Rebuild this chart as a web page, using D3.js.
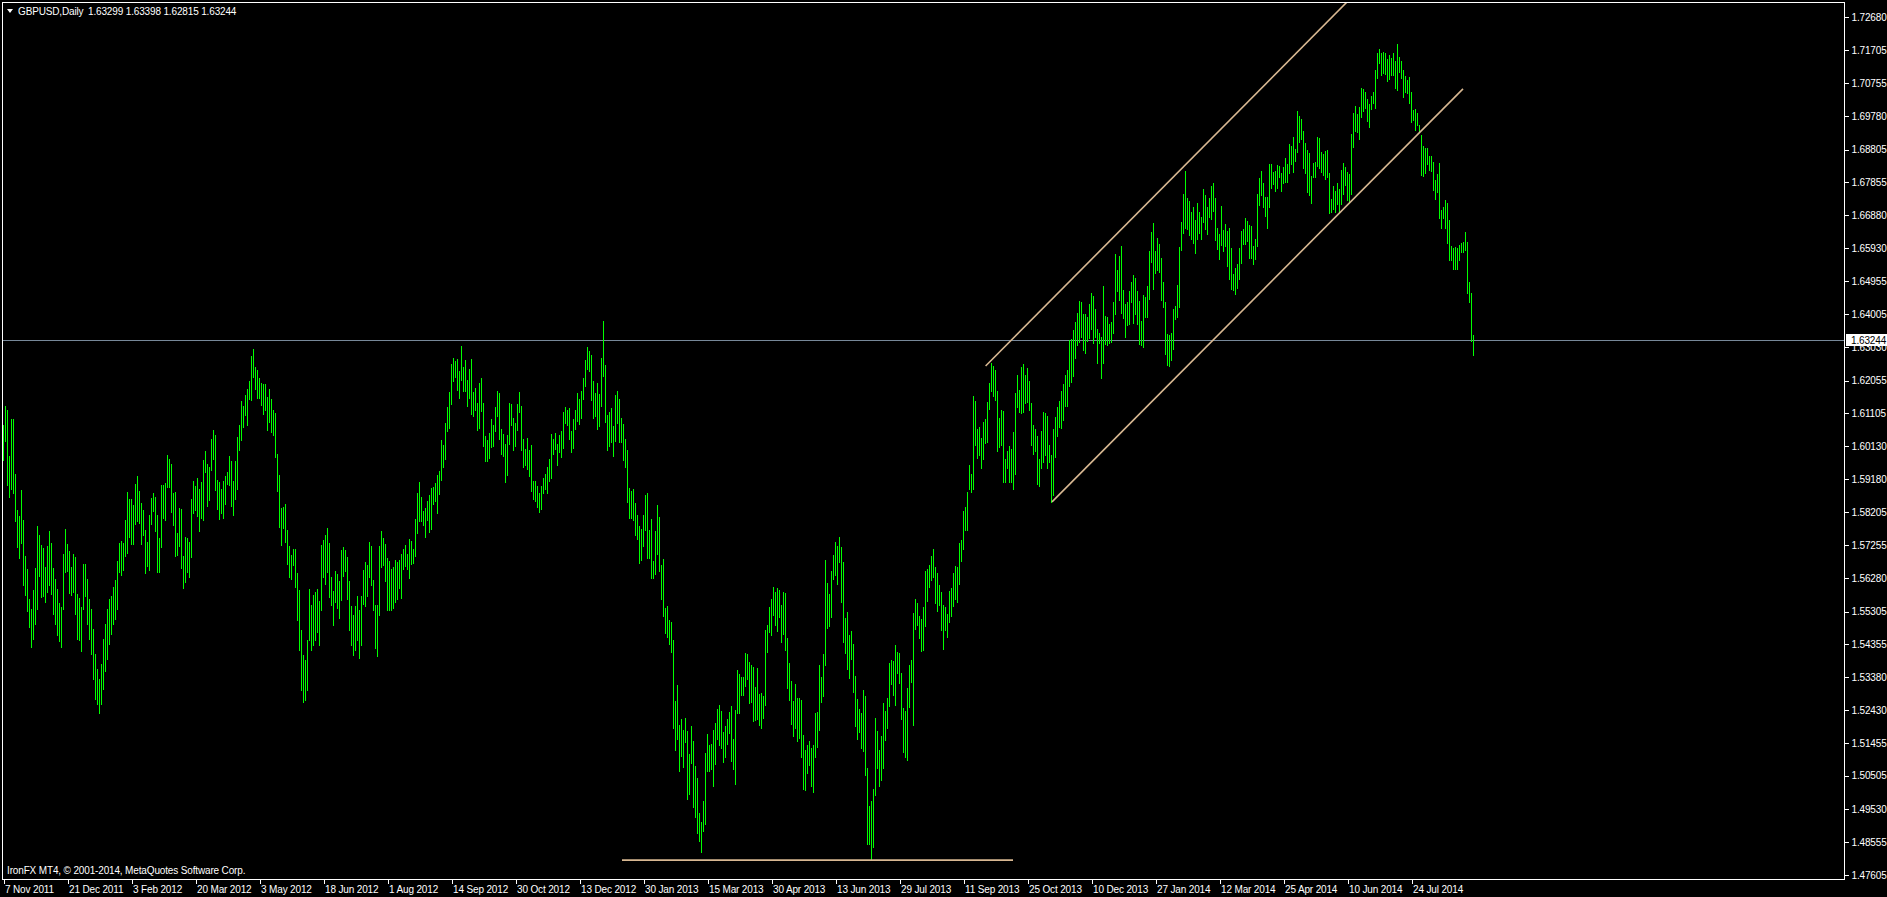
<!DOCTYPE html>
<html><head><meta charset="utf-8">
<script src="https://cdn.jsdelivr.net/npm/d3@7"></script>
<style>
html,body{margin:0;padding:0;background:#000;overflow:hidden}
svg{display:block}
text{font-family:"Liberation Sans",Arial,sans-serif;font-size:10px;fill:#fff;letter-spacing:-0.15px}
</style></head><body>
<svg id="c" width="1887" height="897"></svg>
<script>
const symbolTitle = "GBPUSD,Daily";
const lastOHLC = [1.63299, 1.63398, 1.62815, 1.63244];
const footerText = "IronFX MT4, \u00a9 2001-2014, MetaQuotes Software Corp.";
const dateLabels = ["7 Nov 2011","21 Dec 2011","3 Feb 2012","20 Mar 2012","3 May 2012","18 Jun 2012","1 Aug 2012","14 Sep 2012","30 Oct 2012","13 Dec 2012","30 Jan 2013","15 Mar 2013","30 Apr 2013","13 Jun 2013","29 Jul 2013","11 Sep 2013","25 Oct 2013","10 Dec 2013","27 Jan 2014","12 Mar 2014","25 Apr 2014","10 Jun 2014","24 Jul 2014"];
const barsPerDateLabel = 32;
const priceTicks = [1.72680,1.71705,1.70755,1.69780,1.68805,1.67855,1.66880,1.65930,1.64955,1.64005,1.63030,1.62055,1.61105,1.60130,1.59180,1.58205,1.57255,1.56280,1.55305,1.54355,1.53380,1.52430,1.51455,1.50505,1.49530,1.48555,1.47605];
// trend lines: [barIndex, price]
const channelUpper = [[491.3, 1.6248], [680, 1.7359]];
const channelLower = [[524.5, 1.5851], [730, 1.7058]];
const supportLine = [[309.5, 1.4804], [505, 1.4804]];

const barHighs = [
1.6077,1.6130,1.6118,1.5984,1.6092,1.6092,1.5931,1.5826,1.5811,1.5887,
1.5797,1.5692,1.5654,1.5566,1.5537,1.5592,1.5657,1.5779,1.5753,1.5724,
1.5715,1.5662,1.5721,1.5767,1.5732,1.5657,1.5627,1.5595,1.5554,1.5543,
1.5700,1.5773,1.5727,1.5706,1.5662,1.5700,1.5689,1.5581,1.5569,1.5543,
1.5668,1.5668,1.5627,1.5566,1.5537,1.5478,1.5405,1.5362,1.5332,1.5376,
1.5449,1.5493,1.5537,1.5566,1.5575,1.5601,1.5624,1.5677,1.5732,1.5738,
1.5732,1.5797,1.5881,1.5858,1.5858,1.5841,1.5902,1.5928,1.5884,1.5849,
1.5826,1.5770,1.5735,1.5814,1.5861,1.5878,1.5864,1.5814,1.5744,1.5899,
1.5899,1.5905,1.5989,1.5975,1.5963,1.5876,1.5881,1.5759,1.5832,1.5829,
1.5694,1.5747,1.5744,1.5735,1.5858,1.5913,1.5896,1.5922,1.5890,1.5908,
1.5972,1.6001,1.5963,1.5954,1.6036,1.6062,1.6045,1.5916,1.5908,1.5890,
1.5913,1.5928,1.5937,1.5984,1.5969,1.5911,1.5969,1.6042,1.6077,1.6147,
1.6132,1.6162,1.6182,1.6205,1.6277,1.6298,1.6246,1.6236,1.6213,1.6198,
1.6195,1.6195,1.6158,1.6181,1.6152,1.6120,1.6111,1.5991,1.5929,1.5834,
1.5837,1.5845,1.5769,1.5722,1.5695,1.5713,1.5713,1.5643,1.5593,1.5477,
1.5404,1.5389,1.5447,1.5596,1.5550,1.5579,1.5588,1.5596,1.5561,1.5725,
1.5740,1.5754,1.5775,1.5731,1.5632,1.5590,1.5649,1.5640,1.5620,1.5710,
1.5719,1.5710,1.5690,1.5620,1.5547,1.5520,1.5547,1.5576,1.5535,1.5576,
1.5652,1.5675,1.5666,1.5734,1.5722,1.5623,1.5550,1.5550,1.5722,1.5766,
1.5745,1.5728,1.5687,1.5678,1.5655,1.5661,1.5681,1.5675,1.5681,1.5699,
1.5713,1.5725,1.5699,1.5743,1.5737,1.5713,1.5801,1.5877,1.5909,1.5865,
1.5824,1.5833,1.5853,1.5871,1.5891,1.5894,1.5906,1.5929,1.5941,1.6032,
1.6017,1.6082,1.6128,1.6172,1.6254,1.6271,1.6262,1.6268,1.6233,1.6306,
1.6245,1.6265,1.6207,1.6239,1.6268,1.6172,1.6184,1.6140,1.6198,1.6213,
1.6140,1.6044,1.6032,1.6052,1.6093,1.6076,1.6128,1.6175,1.6169,1.6064,
1.6049,1.6020,1.6046,1.6140,1.6137,1.6096,1.6082,1.6137,1.6172,1.6131,
1.6035,1.6005,1.6038,1.6003,1.6017,1.5912,1.5912,1.5897,1.5877,1.5897,
1.5920,1.5932,1.5953,1.5976,1.6049,1.6035,1.6052,1.6020,1.6046,1.6058,
1.6114,1.6128,1.6120,1.6125,1.6058,1.6093,1.6120,1.6169,1.6152,1.6175,
1.6213,1.6265,1.6303,1.6292,1.6280,1.6204,1.6169,1.6198,1.6166,1.6271,
1.6380,1.6251,1.6105,1.6114,1.6125,1.6073,1.6163,1.6175,1.6152,1.6096,
1.6079,1.6035,1.6003,1.5891,1.5883,1.5888,1.5847,1.5812,1.5780,1.5772,
1.5812,1.5871,1.5877,1.5769,1.5801,1.5678,1.5766,1.5842,1.5807,1.5666,
1.5684,1.5541,1.5547,1.5506,1.5500,1.5447,1.5269,1.5316,1.5199,1.5217,
1.5184,1.5219,1.5182,1.5114,1.5196,1.5152,1.5079,1.5044,1.4942,1.4916,
1.4977,1.5117,1.5173,1.5141,1.5143,1.5184,1.5205,1.5246,1.5257,1.5240,
1.5179,1.5196,1.5217,1.5237,1.5255,1.5158,1.5243,1.5360,1.5348,1.5339,
1.5339,1.5410,1.5407,1.5383,1.5374,1.5368,1.5310,1.5366,1.5290,1.5292,
1.5284,1.5477,1.5491,1.5544,1.5567,1.5602,1.5588,1.5599,1.5593,1.5550,
1.5588,1.5585,1.5453,1.5380,1.5328,1.5269,1.5319,1.5278,1.5278,1.5272,
1.5170,1.5126,1.5141,1.5152,1.5132,1.5141,1.5234,1.5237,1.5374,1.5339,
1.5407,1.5681,1.5614,1.5582,1.5649,1.5696,1.5734,1.5722,1.5748,1.5719,
1.5675,1.5512,1.5529,1.5462,1.5474,1.5436,1.5342,1.5275,1.5246,1.5234,
1.5301,1.5284,1.5073,1.4962,1.4977,1.5012,1.5219,1.5181,1.5126,1.5167,
1.5263,1.5240,1.5278,1.5380,1.5389,1.5386,1.5433,1.5412,1.5409,1.5351,
1.5249,1.5240,1.5307,1.5374,1.5389,1.5526,1.5567,1.5555,1.5518,1.5509,
1.5544,1.5649,1.5655,1.5666,1.5693,1.5713,1.5661,1.5643,1.5608,1.5588,
1.5550,1.5544,1.5523,1.5590,1.5599,1.5643,1.5664,1.5661,1.5731,1.5740,
1.5824,1.5836,1.5880,1.5959,1.5932,1.6160,1.6146,1.6064,1.6070,1.6038,
1.6085,1.6093,1.6143,1.6198,1.6257,1.6248,1.6236,1.6175,1.6096,1.6120,
1.6117,1.5976,1.6000,1.6014,1.6006,1.6055,1.6169,1.6221,1.6178,1.6245,
1.6254,1.6221,1.6242,1.6204,1.6140,1.6076,1.6064,1.6044,1.5976,1.6058,
1.6114,1.6111,1.6102,1.6017,1.5988,1.6064,1.6099,1.6128,1.6146,1.6175,
1.6195,1.6221,1.6236,1.6324,1.6327,1.6353,1.6376,1.6403,1.6438,1.6435,
1.6400,1.6400,1.6391,1.6429,1.6461,1.6453,1.6415,1.6356,1.6344,1.6333,
1.6482,1.6394,1.6391,1.6371,1.6376,1.6435,1.6575,1.6529,1.6570,1.6599,
1.6470,1.6429,1.6435,1.6467,1.6494,1.6514,1.6505,1.6467,1.6438,1.6379,
1.6455,1.6450,1.6482,1.6584,1.6640,1.6666,1.6584,1.6622,1.6605,1.6564,
1.6494,1.6435,1.6341,1.6339,1.6344,1.6415,1.6423,1.6485,1.6596,1.6669,
1.6751,1.6818,1.6739,1.6730,1.6698,1.6713,1.6675,1.6725,1.6698,1.6684,
1.6765,1.6748,1.6713,1.6739,1.6774,1.6783,1.6739,1.6651,1.6634,1.6716,
1.6645,1.6663,1.6643,1.6651,1.6593,1.6517,1.6535,1.6546,1.6593,1.6643,
1.6648,1.6681,1.6672,1.6660,1.6657,1.6599,1.6619,1.6751,1.6798,1.6818,
1.6783,1.6742,1.6742,1.6838,1.6838,1.6815,1.6818,1.6836,1.6833,1.6812,
1.6830,1.6856,1.6838,1.6897,1.6891,1.6917,1.6882,1.6993,1.6978,1.6970,
1.6935,1.6900,1.6879,1.6871,1.6804,1.6841,1.6844,1.6917,1.6915,1.6874,
1.6868,1.6876,1.6879,1.6812,1.6736,1.6774,1.6760,1.6783,1.6766,1.6821,
1.6841,1.6830,1.6815,1.6809,1.6926,1.6987,1.7008,1.6984,1.7005,1.7061,
1.7058,1.7049,1.7029,1.7014,1.7037,1.7049,1.7113,1.7163,1.7175,1.7163,
1.7166,1.7163,1.7145,1.7157,1.7148,1.7163,1.7140,1.7189,1.7151,1.7140,
1.7113,1.7096,1.7084,1.7093,1.7049,1.6996,1.6999,1.6987,1.6952,1.6923,
1.6891,1.6885,1.6885,1.6862,1.6862,1.6844,1.6792,1.6809,1.6841,1.6704,
1.6713,1.6733,1.6725,1.6675,1.6599,1.6593,1.6596,1.6593,1.6602,1.6608,
1.6610,1.6640,1.6610,1.6494,1.6461,1.63398];

const barLows = [
1.5974,1.6030,1.5899,1.5864,1.5890,1.5876,1.5794,1.5718,1.5686,1.5732,
1.5607,1.5578,1.5531,1.5484,1.5426,1.5449,1.5493,1.5537,1.5633,1.5572,
1.5575,1.5557,1.5589,1.5607,1.5581,1.5522,1.5493,1.5461,1.5443,1.5426,
1.5537,1.5645,1.5648,1.5584,1.5578,1.5589,1.5522,1.5449,1.5446,1.5414,
1.5537,1.5575,1.5493,1.5449,1.5405,1.5332,1.5274,1.5259,1.5233,1.5259,
1.5303,1.5356,1.5391,1.5435,1.5464,1.5493,1.5508,1.5537,1.5645,1.5636,
1.5651,1.5692,1.5703,1.5747,1.5727,1.5727,1.5785,1.5794,1.5788,1.5727,
1.5753,1.5642,1.5665,1.5651,1.5785,1.5823,1.5767,1.5645,1.5645,1.5718,
1.5805,1.5797,1.5893,1.5893,1.5820,1.5782,1.5692,1.5695,1.5721,1.5657,
1.5598,1.5616,1.5645,1.5630,1.5689,1.5817,1.5826,1.5811,1.5765,1.5803,
1.5797,1.5937,1.5838,1.5855,1.5943,1.5975,1.5887,1.5829,1.5800,1.5817,
1.5805,1.5846,1.5902,1.5899,1.5838,1.5814,1.5858,1.5890,1.6004,1.6033,
1.6071,1.6106,1.6077,1.6153,1.6149,1.6216,1.6181,1.6155,1.6155,1.6134,
1.6108,1.6120,1.6061,1.6084,1.6055,1.6046,1.5983,1.5883,1.5778,1.5725,
1.5775,1.5734,1.5669,1.5632,1.5626,1.5666,1.5603,1.5506,1.5418,1.5301,
1.5266,1.5272,1.5301,1.5447,1.5418,1.5433,1.5447,1.5471,1.5433,1.5535,
1.5632,1.5611,1.5646,1.5573,1.5550,1.5491,1.5558,1.5541,1.5512,1.5564,
1.5634,1.5649,1.5567,1.5476,1.5433,1.5404,1.5418,1.5447,1.5395,1.5433,
1.5553,1.5547,1.5576,1.5632,1.5608,1.5535,1.5424,1.5401,1.5520,1.5661,
1.5666,1.5620,1.5535,1.5535,1.5535,1.5541,1.5558,1.5567,1.5599,1.5570,
1.5655,1.5663,1.5655,1.5629,1.5669,1.5672,1.5693,1.5760,1.5795,1.5795,
1.5783,1.5748,1.5798,1.5763,1.5772,1.5845,1.5853,1.5818,1.5874,1.5915,
1.5953,1.5976,1.6058,1.6067,1.6137,1.6204,1.6216,1.6178,1.6155,1.6207,
1.6175,1.6175,1.6131,1.6155,1.6108,1.6102,1.6120,1.6061,1.6067,1.6117,
1.6014,1.5971,1.5971,1.5979,1.6012,1.6014,1.6058,1.6102,1.6035,1.5991,
1.5985,1.5909,1.5929,1.6020,1.6076,1.6003,1.6014,1.6061,1.6114,1.6003,
1.5953,1.5959,1.5947,1.5926,1.5883,1.5859,1.5853,1.5836,1.5821,1.5830,
1.5877,1.5888,1.5877,1.5912,1.5920,1.5991,1.6006,1.5959,1.5997,1.5982,
1.6009,1.6082,1.6076,1.6035,1.5997,1.6009,1.6064,1.6087,1.6079,1.6096,
1.6152,1.6189,1.6239,1.6233,1.6149,1.6096,1.6102,1.6064,1.6073,1.6131,
1.6219,1.6085,1.6003,1.6014,1.6026,1.5985,1.6029,1.6082,1.6026,1.6026,
1.5974,1.5953,1.5850,1.5804,1.5804,1.5798,1.5754,1.5742,1.5672,1.5681,
1.5722,1.5769,1.5687,1.5687,1.5629,1.5629,1.5640,1.5699,1.5649,1.5567,
1.5517,1.5468,1.5456,1.5436,1.5412,1.5190,1.5126,1.5158,1.5065,1.5108,
1.5076,1.5149,1.4983,1.4997,1.5088,1.4959,1.4930,1.4883,1.4860,1.4828,
1.4889,1.4910,1.5065,1.5065,1.5070,1.5021,1.5085,1.5158,1.5141,1.5132,
1.5091,1.5105,1.5143,1.5176,1.5094,1.5070,1.5026,1.5234,1.5234,1.5287,
1.5287,1.5313,1.5334,1.5263,1.5266,1.5211,1.5213,1.5216,1.5199,1.5190,
1.5219,1.5257,1.5412,1.5471,1.5462,1.5520,1.5491,1.5474,1.5515,1.5441,
1.5465,1.5418,1.5307,1.5272,1.5202,1.5167,1.5190,1.5152,1.5161,1.5105,
1.5012,1.5009,1.5059,1.5082,1.5021,1.5003,1.5105,1.5135,1.5184,1.5266,
1.5284,1.5374,1.5482,1.5488,1.5515,1.5626,1.5637,1.5611,1.5675,1.5558,
1.5441,1.5409,1.5363,1.5336,1.5392,1.5295,1.5196,1.5158,1.5179,1.5132,
1.5123,1.5053,1.4851,1.4851,1.4808,1.4843,1.4994,1.5073,1.5021,1.5038,
1.5073,1.5155,1.5190,1.5255,1.5319,1.5287,1.5257,1.5351,1.5322,1.5216,
1.5120,1.5105,1.5097,1.5252,1.5325,1.5199,1.5479,1.5491,1.5453,1.5415,
1.5418,1.5488,1.5561,1.5602,1.5623,1.5632,1.5555,1.5532,1.5550,1.5477,
1.5421,1.5477,1.5456,1.5500,1.5518,1.5547,1.5567,1.5558,1.5611,1.5678,
1.5713,1.5769,1.5769,1.5888,1.5880,1.5888,1.6017,1.5979,1.5988,1.5950,
1.5976,1.6023,1.6026,1.6123,1.6175,1.6160,1.6149,1.6000,1.6012,1.6017,
1.5909,1.5909,1.5950,1.5909,1.5909,1.5888,1.5932,1.6128,1.6114,1.6111,
1.6114,1.6140,1.6143,1.6120,1.6017,1.5991,1.6000,1.5903,1.5897,1.5950,
1.5968,1.5988,1.5950,1.5968,1.5850,1.5871,1.5982,1.6044,1.6070,1.6067,
1.6090,1.6131,1.6131,1.6189,1.6201,1.6219,1.6271,1.6309,1.6318,1.6333,
1.6295,1.6286,1.6321,1.6330,1.6356,1.6315,1.6333,1.6257,1.6315,1.6213,
1.6257,1.6312,1.6309,1.6315,1.6318,1.6344,1.6400,1.6467,1.6441,1.6403,
1.6388,1.6333,1.6368,1.6371,1.6435,1.6374,1.6400,1.6371,1.6312,1.6309,
1.6303,1.6391,1.6391,1.6444,1.6552,1.6473,1.6520,1.6529,1.6523,1.6441,
1.6421,1.6283,1.6251,1.6248,1.6265,1.6298,1.6385,1.6391,1.6421,1.6587,
1.6637,1.6651,1.6648,1.6631,1.6619,1.6608,1.6578,1.6619,1.6637,1.6619,
1.6669,1.6648,1.6634,1.6684,1.6678,1.6701,1.6616,1.6590,1.6561,1.6602,
1.6584,1.6599,1.6540,1.6502,1.6473,1.6470,1.6459,1.6476,1.6502,1.6549,
1.6605,1.6605,1.6613,1.6564,1.6564,1.6546,1.6561,1.6599,1.6719,1.6748,
1.6713,1.6687,1.6651,1.6713,1.6768,1.6780,1.6760,1.6768,1.6800,1.6760,
1.6783,1.6786,1.6786,1.6812,1.6838,1.6815,1.6847,1.6874,1.6903,1.6911,
1.6827,1.6812,1.6757,1.6748,1.6725,1.6800,1.6800,1.6833,1.6827,1.6815,
1.6806,1.6795,1.6800,1.6695,1.6698,1.6707,1.6698,1.6722,1.6698,1.6722,
1.6751,1.6777,1.6733,1.6730,1.6751,1.6888,1.6935,1.6932,1.6912,1.6976,
1.6994,1.7002,1.6964,1.6947,1.6999,1.7017,1.7002,1.7090,1.7134,1.7099,
1.7104,1.7101,1.7081,1.7087,1.7099,1.7099,1.7061,1.7055,1.7107,1.7090,
1.7034,1.7049,1.7046,1.7017,1.6961,1.6967,1.6938,1.6952,1.6932,1.6806,
1.6804,1.6812,1.6838,1.6821,1.6818,1.6763,1.6736,1.6757,1.6681,1.6651,
1.6681,1.6651,1.6608,1.6558,1.6558,1.6532,1.6532,1.6532,1.6558,1.6581,
1.6581,1.6587,1.6462,1.6435,1.6321,1.62815];

// ---------- drawing ----------
const svg = d3.select("#c");
const frame = {left: 2, top: 2, right: 1844, bottom: 879};

svg.append("rect").attr("width", 1887).attr("height", 897).attr("fill", "#000");

const x = d3.scaleLinear().domain([0, 920.5]).range([3, 1844]);
const y = d3.scaleLinear().domain([1.47605, 1.72680]).range([875, 17]);

svg.append("defs").append("clipPath").attr("id", "plotClip")
  .append("rect").attr("x", frame.left + 1).attr("y", frame.top + 1)
  .attr("width", frame.right - frame.left - 1).attr("height", frame.bottom - frame.top - 1);

const plot = svg.append("g").attr("clip-path", "url(#plotClip)");

// bid line
const bid = lastOHLC[3];
plot.append("line")
  .attr("x1", frame.left).attr("x2", frame.right)
  .attr("y1", Math.round(y(bid)) + 0.5).attr("y2", Math.round(y(bid)) + 0.5)
  .attr("stroke", "#778899").attr("stroke-width", 1).attr("shape-rendering", "crispEdges");

// bars
const idx = d3.range(barHighs.length);
plot.append("g").selectAll("line").data(idx).join("line")
  .attr("x1", i => Math.round(x(i)) + 0.5).attr("x2", i => Math.round(x(i)) + 0.5)
  .attr("y1", i => Math.round(y(barHighs[i])))
  .attr("y2", i => Math.round(y(barLows[i])) + 1)
  .attr("stroke", "#00ff00").attr("stroke-width", 1).attr("shape-rendering", "crispEdges");

// trend lines
const lineGen = d3.line().x(d => x(d[0])).y(d => y(d[1]));
[channelUpper, channelLower, supportLine].forEach(pts => {
  plot.append("path").attr("d", lineGen(pts)).attr("fill", "none")
    .attr("stroke", "#d8b892").attr("stroke-width", 1.6);
});

// frame
svg.append("rect")
  .attr("x", frame.left + 0.5).attr("y", frame.top + 0.5)
  .attr("width", frame.right - frame.left).attr("height", frame.bottom - frame.top)
  .attr("fill", "none").attr("stroke", "#fff").attr("stroke-width", 1)
  .attr("shape-rendering", "crispEdges");

// price axis
const yAxis = d3.axisRight(y).tickValues(priceTicks).tickSize(4).tickPadding(3)
  .tickFormat(d3.format(".5f"));
const yg = svg.append("g").attr("transform", `translate(${frame.right + 0.5},0)`).call(yAxis);
yg.select(".domain").remove();
yg.selectAll(".tick line").attr("stroke", "#fff").attr("shape-rendering", "crispEdges");
yg.selectAll(".tick text").attr("fill", "#fff").attr("font-size", 10)
  .style("font-family", '"Liberation Sans",Arial,sans-serif');

// date axis
const tickIdx = dateLabels.map((d, k) => k * barsPerDateLabel);
const xAxis = d3.axisBottom(x).tickValues(tickIdx).tickSize(4).tickPadding(2)
  .tickFormat((d, k) => dateLabels[k]);
const xg = svg.append("g").attr("transform", `translate(0.5,${frame.bottom + 0.5})`).call(xAxis);
xg.select(".domain").remove();
xg.selectAll(".tick line").attr("stroke", "#fff").attr("shape-rendering", "crispEdges");
xg.selectAll(".tick text").attr("fill", "#fff").attr("font-size", 10)
  .attr("text-anchor", "start").attr("x", 1)
  .style("font-family", '"Liberation Sans",Arial,sans-serif');

// current price label box
const by = y(bid);
svg.append("rect").attr("x", frame.right + 2).attr("y", Math.round(by) - 6)
  .attr("width", 1887 - frame.right - 2).attr("height", 12).attr("fill", "#fff");
svg.append("text").attr("x", frame.right + 7).attr("y", Math.round(by) + 4)
  .attr("fill", "#000").style("fill", "#000").text(d3.format(".5f")(bid));

// header
svg.append("path").attr("d", "M7,9 L13,9 L10,13 Z").attr("fill", "#fff");
svg.append("text").attr("x", 18).attr("y", 15).text(symbolTitle);
svg.append("text").attr("x", 88).attr("y", 15)
  .text(lastOHLC.map(d3.format(".5f")).join(" "));

// footer
svg.append("text").attr("x", 7).attr("y", 874).text(footerText);
</script>
</body></html>
